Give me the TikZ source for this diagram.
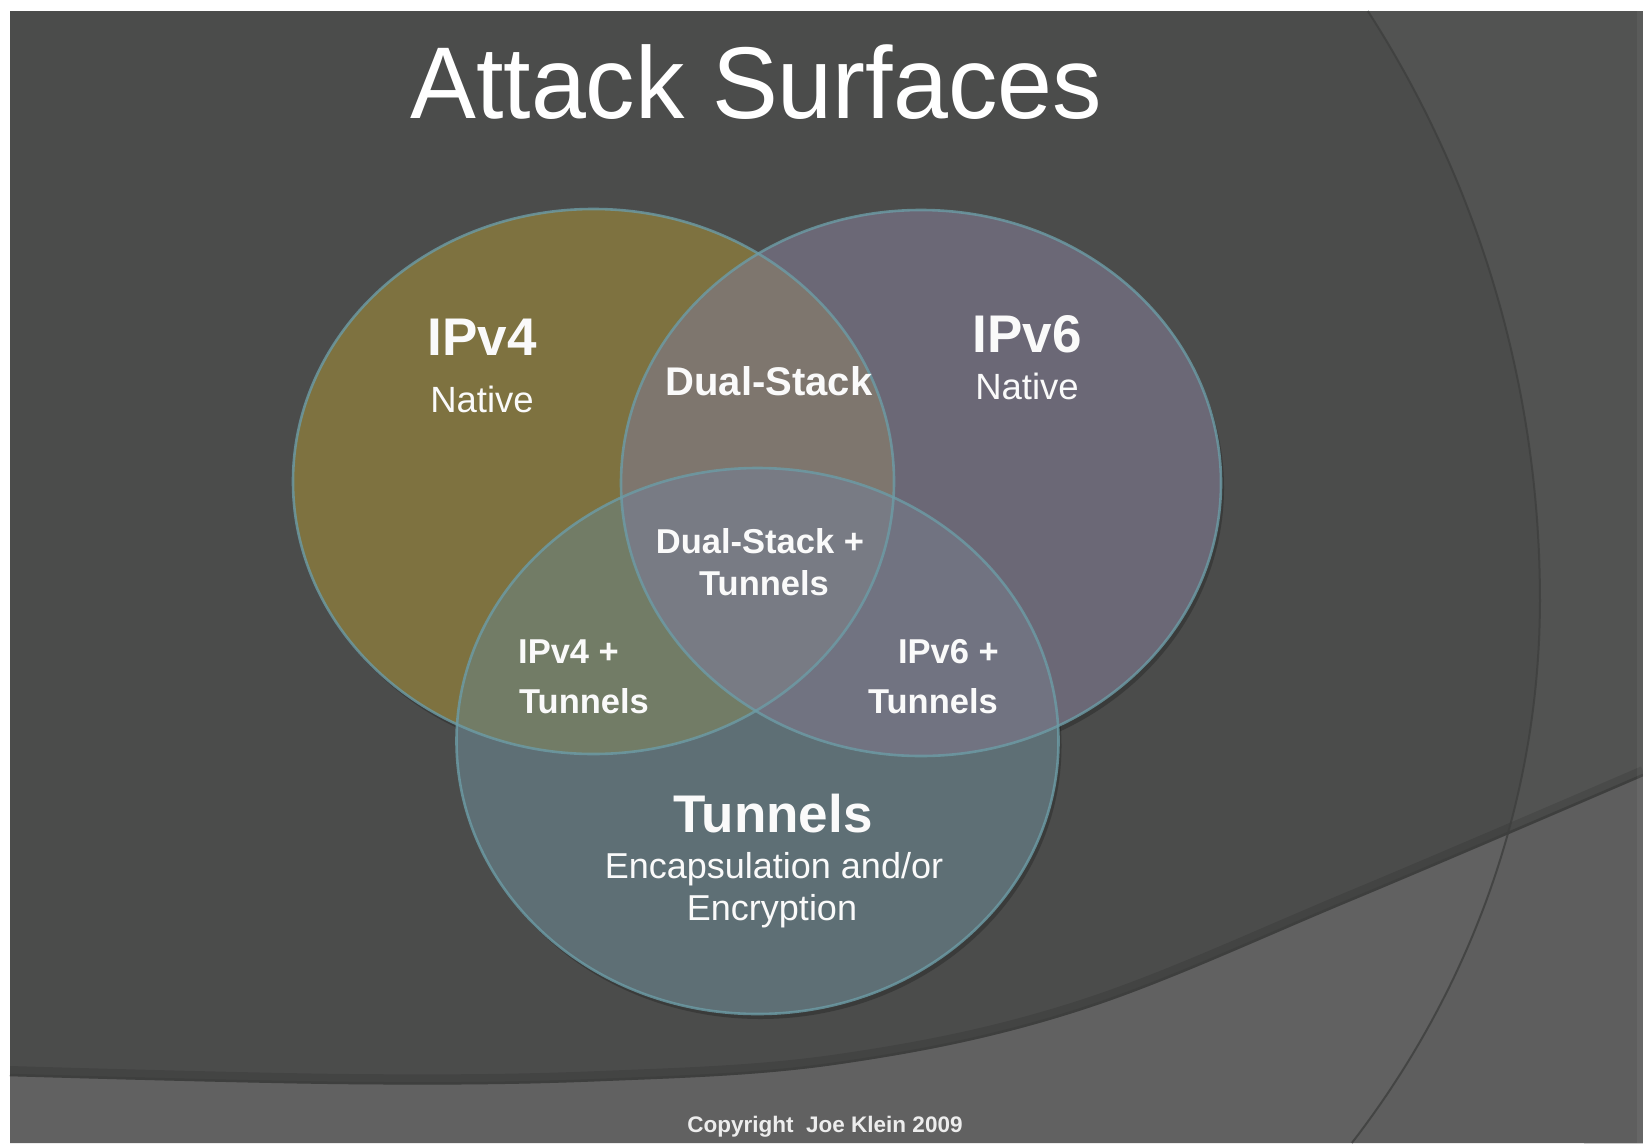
\documentclass[tikz,border=0pt]{standalone}
\usepackage{fontspec}
\setmainfont{Liberation Sans}
\definecolor{bgdark}{RGB}{75,76,75}
\definecolor{bgright}{RGB}{82,83,82}
\definecolor{bandcol}{RGB}{97,97,97}
\definecolor{bandright}{RGB}{94,94,94}
\definecolor{arcline}{RGB}{62,63,62}
\definecolor{cfour}{RGB}{126,114,64}
\definecolor{csix}{RGB}{107,104,118}
\definecolor{cdual}{RGB}{126,118,110}
\definecolor{ctun}{RGB}{94,111,117}
\definecolor{cfourt}{RGB}{114,124,102}
\definecolor{csixt}{RGB}{113,115,129}
\definecolor{ccenter}{RGB}{120,123,132}
\definecolor{rim}{RGB}{108,156,166}
\definecolor{txt}{RGB}{250,250,250}
\tikzset{
  lbl/.style={inner sep=0pt, text=txt},
  boldlbl/.style={lbl, font=\bfseries\fontsize{#1}{#1}\selectfont},
  reglbl/.style={lbl, font=\fontsize{#1}{#1}\selectfont},
  rimline/.style={draw=rim, line width=2.6pt, opacity=0.8},
  shadowfill/.style={fill=black, opacity=0.22},
  bigarc/.style={insert path={plot[domain=34.12:0, samples=50] ({540+1000*cos(\x)},{600-1050*sin(\x)}) -- plot[domain=0:35.72, samples=50] ({540+1000*cos(\x)},{600+930*sin(\x)})}},
  bandedge/.style={insert path={plot[smooth, tension=0.6] coordinates {(10,1075) (350,1083) (600,1080) (839,1063) (1078,1010) (1350,900) (1643,775)}}}
}
\begin{document}
\begin{tikzpicture}[x=1pt,y=-1pt]
\useasboundingbox (0,0) rectangle (1643,1143);
\fill[white] (0,0) rectangle (1643,1143);
\fill[bgdark] (10,11) rectangle (1643,1143);
% lighter region right of big arc
\fill[bgright, bigarc] -- (1643,1143) -- (1643,11) -- cycle;
% bottom band
\fill[bandcol, bandedge] -- (1643,1143) -- (10,1143) -- cycle;
\begin{scope}
  \clip[bandedge] -- (1643,1143) -- (10,1143) -- cycle;
  \fill[bandright, bigarc] -- (1643,1143) -- (1643,11) -- cycle;
\end{scope}
% shadow above band edge
\begin{scope}[yshift=4pt]
  \draw[black, opacity=0.10, line width=10pt, bandedge];
\end{scope}
\draw[arcline, line width=2.5pt, bandedge];
% big arc line
\draw[arcline, line width=2pt, opacity=0.8, bigarc];
% right edge strip
\fill[white, opacity=0.05] (1637,11) rectangle (1643,1143);

% circle shadows
\fill[shadowfill] (596.5,486.5) ellipse (300.5pt and 272.5pt);
\fill[shadowfill] (924,488) ellipse (300pt and 273pt);
\fill[shadowfill] (760.5,746) ellipse (301pt and 273pt);

% region fills
\fill[cfour] (593.5,481.5) ellipse (300.5pt and 272.5pt);
\fill[csix] (921,483) ellipse (300pt and 273pt);
\begin{scope}
  \clip (593.5,481.5) ellipse (300.5pt and 272.5pt);
  \fill[cdual] (921,483) ellipse (300pt and 273pt);
\end{scope}
\fill[ctun] (757.5,741) ellipse (301pt and 273pt);
\begin{scope}
  \clip (757.5,741) ellipse (301pt and 273pt);
  \fill[cfourt] (593.5,481.5) ellipse (300.5pt and 272.5pt);
  \fill[csixt] (921,483) ellipse (300pt and 273pt);
  \clip (593.5,481.5) ellipse (300.5pt and 272.5pt);
  \fill[ccenter] (921,483) ellipse (300pt and 273pt);
\end{scope}
% rims
\draw[rimline] (593.5,481.5) ellipse (300.5pt and 272.5pt);
\draw[rimline] (921,483) ellipse (300pt and 273pt);
\draw[rimline] (757.5,741) ellipse (301pt and 273pt);

% texts
\node (title) [lbl, anchor=base, font=\fontsize{102}{102}\selectfont, xscale=0.968, text=white] at (756,118) {Attack Surfaces};
\node (ipv4) [boldlbl=53, anchor=base] at (482,355) {IPv4};
\node (nat4) [reglbl=36.5, anchor=base] at (482,412) {Native};
\node (ipv6) [boldlbl=53, anchor=base] at (1027,352) {IPv6};
\node (nat6) [reglbl=36.5, anchor=base] at (1027,399) {Native};
\node (dual) [boldlbl=40, anchor=base] at (769,395) {Dual-Stack};
\node (dualt1) [boldlbl=34.5, anchor=base] at (760,553) {Dual-Stack +};
\node (dualt2) [boldlbl=34.5, anchor=base] at (764,595) {Tunnels};
\node (v4t1) [boldlbl=34.5, anchor=base west] at (518,663) {IPv4 +};
\node (v4t2) [boldlbl=34.5, anchor=base west] at (519,713) {Tunnels};
\node (v6t1) [boldlbl=34.5, anchor=base east] at (999,663) {IPv6 +};
\node (v6t2) [boldlbl=34.5, anchor=base east] at (998,713) {Tunnels};
\node (tun) [boldlbl=53, anchor=base] at (773,832) {Tunnels};
\node (enc1) [reglbl=36, anchor=base] at (774,878) {Encapsulation and/or};
\node (enc2) [reglbl=36, anchor=base] at (772,920) {Encryption};
\node (copy) [boldlbl=22.5, anchor=base, text=white!93!black] at (825,1132) {Copyright~~Joe Klein 2009};
\end{tikzpicture}
\end{document}
